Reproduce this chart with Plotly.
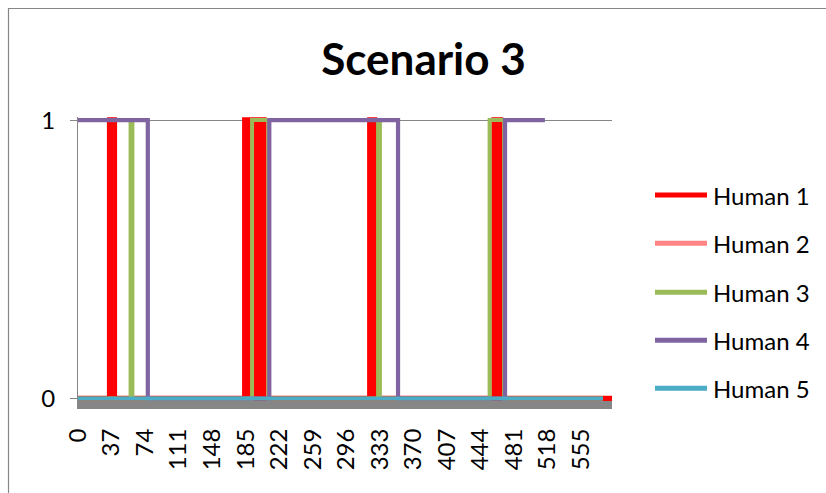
import plotly.graph_objects as go

# Occupancy state (0 = absent, 1 = present) per time step, stored as
# switch times and the level that holds from each switch onwards.
series_names = ["Human 1", "Human 2", "Human 3", "Human 4", "Human 5"]

h1_t = [0, 35, 36, 37, 38, 39, 40,
        184, 185, 186, 187, 188, 189, 190, 191, 192, 193, 194,
        195, 196, 197, 198, 199, 200, 201, 202, 203, 204, 205,
        322, 323, 324, 325, 326, 327,
        459, 460, 461, 462, 463, 464, 465, 466,
        589]
h1_v = [0, 1, 0, 1, 0, 1, 0,
        1, 0, 1, 0, 1, 0, 1, 0, 1, 0, 1,
        0, 1, 0, 1, 0, 1, 0, 1, 0, 1, 0,
        1, 0, 1, 0, 1, 0,
        1, 0, 1, 0, 1, 0, 1, 0,
        0]

h2_t = [0, 34, 35, 36, 37, 38, 39, 40, 41,
        184, 185, 186, 187, 188, 189, 190, 191, 192, 193, 194,
        195, 196, 197, 198, 199, 200, 201, 202, 203, 204, 205,
        321, 322, 323, 324, 325, 326, 327, 328,
        459, 460, 461, 462, 463, 464, 465, 466,
        579]
h2_v = [0, 1, 0, 1, 0, 1, 0, 1, 0,
        1, 0, 1, 0, 1, 0, 1, 0, 1, 0, 1,
        0, 1, 0, 1, 0, 1, 0, 1, 0, 1, 0,
        1, 0, 1, 0, 1, 0, 1, 0,
        1, 0, 1, 0, 1, 0, 1, 0,
        0]

h3_t = [0, 58, 60, 192, 210, 331, 333, 454, 470, 579]
h3_v = [0, 1, 0, 1, 0, 1, 0, 1, 0, 0]

h4_t = [0, 77, 211, 353, 471, 515]
h4_v = [1, 0, 1, 0, 1, 1]

h5_t = [0, 579]
h5_v = [0, 0]

x_tick_values = [0, 37, 74, 111, 148, 185, 222, 259, 296, 333, 370, 407, 444, 481, 518, 555]
y_tick_values = [0, 1]

series_t = [h1_t, h2_t, h3_t, h4_t, h5_t]
series_v = [h1_v, h2_v, h3_v, h4_v, h5_v]
colors = ["#FF0000", "#FF8585", "#9BBB59", "#8064A2", "#4BACC6"]
widths = [5.5, 4, 4, 4.2, 4]
# Human 2 sits underneath Human 1; the rest stack in series order
draw_order = [1, 0, 2, 3, 4]

FONT = "Lato, 'Open Sans', sans-serif"
GRAY = "#868686"

W, H = 826, 493
L, R, T, B = 78, 612, 117, 401   # plot area edges in pixels
PW, PH = R - L, B - T


def px(x):
    return (x - L) / PW


def py(y):
    return (B - y) / PH


fig = go.Figure()
for i in draw_order:
    fig.add_trace(go.Scatter(
        x=series_t[i], y=series_v[i], name=series_names[i], mode="lines",
        line=dict(color=colors[i], width=widths[i], shape="hv"),
        showlegend=False, hoverinfo="skip",
    ))

# legend drawn at the right: long line sample followed by the label
legend_y = [195, 243.3, 292.3, 340.3, 388.3]
shapes = []
annotations = []
for name, c, yy in zip(series_names, colors, legend_y):
    shapes.append(dict(type="line", xref="paper", yref="paper",
                       x0=px(655), x1=px(707), y0=py(yy), y1=py(yy),
                       line=dict(color=c, width=5)))
    annotations.append(dict(xref="paper", yref="paper", x=px(711), y=py(yy),
                            xanchor="left", yanchor="middle", showarrow=False,
                            text=name, font=dict(family=FONT, size=24, color="#000000")))

# chart frame
shapes.append(dict(type="rect", xref="paper", yref="paper",
                   x0=px(8.5), x1=px(840), y0=py(505), y1=py(8.5),
                   line=dict(color=GRAY, width=1.2), layer="below"))

fig.update_layout(
    width=W, height=H,
    margin=dict(l=L, r=W - R, t=T, b=H - B, pad=0),
    paper_bgcolor="white", plot_bgcolor="white",
    title=dict(text="<b>Scenario 3</b>", x=423.5 / W, xref="container",
               xanchor="center", y=1 - 60 / H, yanchor="middle",
               font=dict(family=FONT, size=44, color="#000000")),
    xaxis=dict(range=[0, 589], tickmode="array", tickvals=x_tick_values,
               ticktext=[str(v) for v in x_tick_values], tickangle=-90,
               ticks="", showgrid=False, zeroline=False,
               showline=True, linecolor=GRAY, linewidth=8,
               ticklabelstandoff=10,
               tickfont=dict(family=FONT, size=24, color="#000000")),
    yaxis=dict(range=[-2.5 / 278.5, 1 + 3.1 / 278.5], tickmode="array",
               tickvals=y_tick_values, ticktext=[str(v) for v in y_tick_values],
               ticks="outside", ticklen=7, tickcolor=GRAY, tickwidth=1,
               showline=True, linecolor=GRAY, linewidth=1,
               showgrid=True, gridcolor=GRAY, gridwidth=1, zeroline=False,
               ticklabelstandoff=10,
               tickfont=dict(family=FONT, size=24, color="#000000")),
    shapes=shapes, annotations=annotations,
)

fig.write_html("out.html")
